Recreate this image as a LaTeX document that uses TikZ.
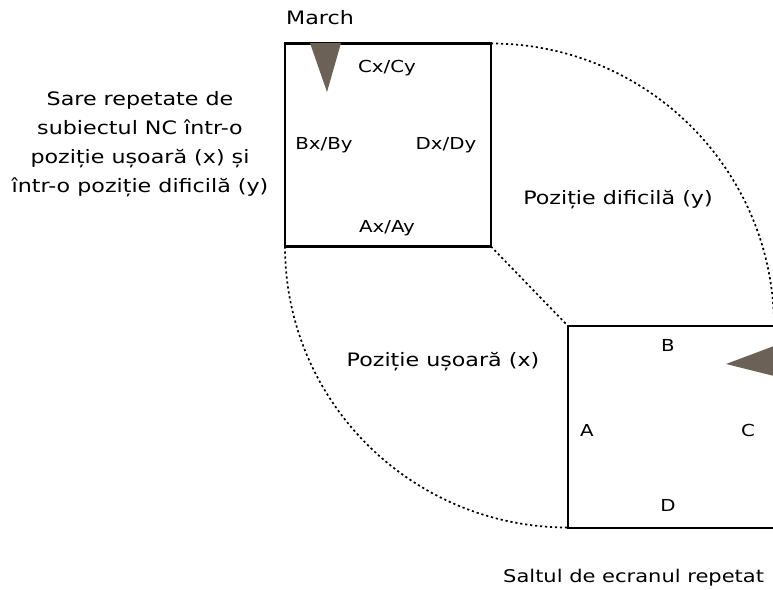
\documentclass[tikz,border=0pt]{standalone}
\usepackage{fontspec}
\setmainfont[FakeStretch=1.2]{DejaVu Sans}
\begin{document}
\begin{tikzpicture}[x=1pt,y=1pt,
  box/.style={draw,line width=2.2pt,minimum width=206pt,minimum height=203pt,outer sep=0pt,inner sep=0pt},
  arcline/.style={line width=1.7pt,dash pattern=on 2.2pt off 2.8pt},
  lbl/.style={font=\fontsize{18.5}{22}\selectfont,inner sep=0pt},
  inlbl/.style={font=\fontsize{16.5}{20}\selectfont,inner sep=0pt},
  marker/.style={fill=black!60!brown!40!gray,draw=none}]
\useasboundingbox (0,0) rectangle (773,589);
\fill[white] (0,0) rectangle (773,589);
\node[box] (ub) at (388,444) {};
\node[box,minimum height=202pt] (lb) at (671,162) {};
% markers
\coordinate (t1) at (310,546);
\coordinate (t2) at (341,546);
\coordinate (t3) at (327,497);
\fill[marker] (t1) -- (t2) -- (t3) -- cycle;
\coordinate (r1) at (774,243);
\coordinate (r2) at (774,213);
\coordinate (r3) at (726,225);
\fill[marker] (r1) -- (r2) -- (r3) -- cycle;
% dotted connectors
\draw[arcline] (ub.north east) arc[start angle=90,end angle=0,x radius=283pt,y radius=283pt];
\draw[arcline] (ub.south west) arc[start angle=180,end angle=270,x radius=283pt,y radius=281pt];
\draw[arcline] (ub.south east) -- (lb.north west);
% labels
\node[lbl] (march) at (320,571) {March};
\node[lbl,align=center,font=\fontsize{18.5}{29}\selectfont] (left) at (140,445)
  {Sare repetate de\\subiectul NC într-o\\poziție ușoară (x) și\\într-o poziție dificilă (y)};
\node[inlbl] (cc) at (387,521) {Cx/Cy};
\node[inlbl] (bb) at (324,444) {Bx/By};
\node[inlbl] (dd) at (446,444) {Dx/Dy};
\node[inlbl] (aa) at (387,361) {Ax/Ay};
\node[lbl] (pd) at (618,389) {Poziție dificilă (y)};
\node[lbl] (pu) at (443,227) {Poziție ușoară (x)};
\node[inlbl] (B) at (668,244) {B};
\node[inlbl] (A) at (587,159) {A};
\node[inlbl] (C) at (748,159) {C};
\node[inlbl] (D) at (668,84) {D};
\node[lbl,anchor=west,font=\fontsize{17.5}{22}\selectfont] (bot) at (503,11) {Saltul de ecranul repetat};
\end{tikzpicture}
\end{document}
